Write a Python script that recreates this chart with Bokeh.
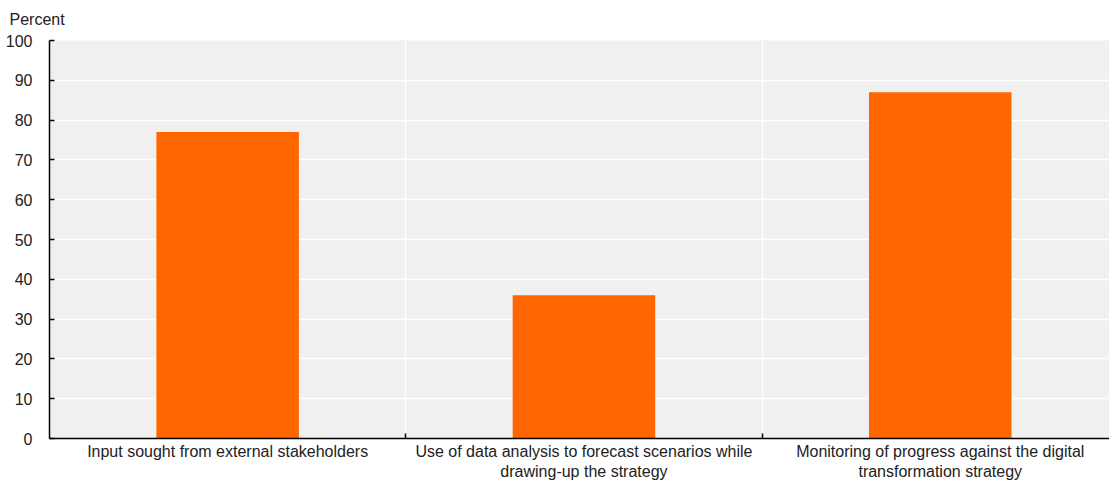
from bokeh.plotting import figure
from bokeh.models import FixedTicker, Range1d, Title, Grid
from bokeh.embed import file_html
from bokeh.resources import INLINE

categories = [
    "Input sought from external stakeholders",
    "Use of data analysis to forecast scenarios while\ndrawing-up the strategy",
    "Monitoring of progress against the digital\ntransformation strategy",
]
values = [77, 36, 87]
y_ticks = [0, 10, 20, 30, 40, 50, 60, 70, 80, 90, 100]

n = len(categories)
centers = [i + 0.5 for i in range(n)]
bounds = [i for i in range(1, n)]

FONT = "Liberation Sans"

# last category is slightly clipped at the right edge, as in the original
p = figure(width=1109, height=488, output_backend="svg", toolbar_location=None,
           x_range=Range1d(0, n - 0.025), y_range=Range1d(0, 100),
           min_border_left=49, min_border_right=0, min_border_top=40, min_border_bottom=50)
p.background_fill_color = "#f0f0f0"
p.border_fill_color = "white"
p.outline_line_color = None

p.vbar(x=centers, top=values, width=0.4, fill_color="#ff6600", line_color=None)

# grids
p.xgrid.visible = False
p.ygrid.ticker = FixedTicker(ticks=y_ticks)
p.ygrid.grid_line_color = "white"
p.ygrid.grid_line_width = 1.5
vgrid = Grid(dimension=0, ticker=FixedTicker(ticks=bounds), grid_line_color="white", grid_line_width=1.5)
p.add_layout(vgrid)

# y axis
p.yaxis.ticker = FixedTicker(ticks=y_ticks)
p.yaxis.axis_line_color = "black"
p.yaxis.axis_line_width = 1.5
p.yaxis.major_tick_in = 5
p.yaxis.major_tick_out = 0
p.yaxis.major_tick_line_color = "black"
p.yaxis.major_tick_line_width = 1.5
p.yaxis.minor_tick_line_color = None
p.yaxis.major_label_text_font = FONT
p.yaxis.major_label_text_font_size = "16px"
p.yaxis.major_label_text_color = "#222222"
p.yaxis.major_label_standoff = 17

# x axis
p.xaxis.ticker = FixedTicker(ticks=centers, minor_ticks=bounds)
p.xaxis.major_label_overrides = {c: lab for c, lab in zip(centers, categories)}
p.xaxis.axis_line_color = "black"
p.xaxis.axis_line_width = 1.5
p.xaxis.major_tick_line_color = None
p.xaxis.minor_tick_in = 5
p.xaxis.minor_tick_out = 0
p.xaxis.minor_tick_line_color = "black"
p.xaxis.minor_tick_line_width = 1.5
p.xaxis.major_label_text_font = FONT
p.xaxis.major_label_text_font_size = "16px"
p.xaxis.major_label_text_color = "#222222"
p.xaxis.major_label_standoff = -2

t = Title(text="Percent", align="left", offset=-40, text_font=FONT, standoff=21,
          vertical_align="top",
          text_font_size="16px", text_font_style="normal", text_color="#222222")
p.add_layout(t, "above")

open("out.html", "w").write(file_html(p, INLINE))
